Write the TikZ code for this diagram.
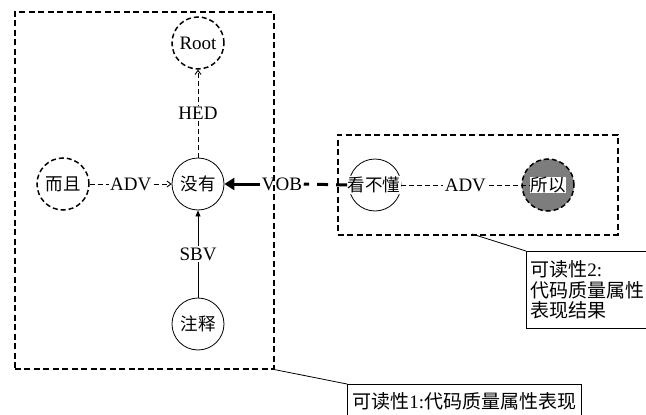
\documentclass[tikz,border=0pt]{standalone}
\usepackage{fontspec}
\setmainfont{Liberation Serif}
\newfontfamily\cjk{Noto Sans CJK SC}
\usetikzlibrary{arrows.meta}
\definecolor{fillgray}{RGB}{125,125,125}
\tikzset{
  word/.style={circle, draw, line width=0.8pt, minimum size=52pt, inner sep=0pt,
    font=\cjk\fontsize{17.5}{17.5}\selectfont},
  dword/.style={word, line width=1.5pt, dash pattern=on 5pt off 3pt},
  wtext/.style={fill=white, inner sep=0.5pt, font=\cjk\fontsize{17.5}{17.5}\selectfont},
  rel/.style={fill=white, inner sep=1.5pt, font=\fontsize{19}{19}\selectfont},
  thinedge/.style={line width=0.9pt, dash pattern=on 5pt off 3pt},
  solidedge/.style={line width=0.8pt},
  vobdash/.style={line width=3pt, dash pattern=on 11pt off 8pt},
  vobline/.style={line width=3pt, -{Triangle[length=10pt,width=12pt]}},
  openarr/.style={-{Straight Barb[length=4pt,width=6pt]}},
  group/.style={draw, line width=1.6pt, dash pattern=on 6pt off 3.5pt, inner sep=0pt},
  callout/.style={draw, line width=0.8pt, anchor=north west, align=left,
    font=\fontsize{19}{20.5}\selectfont},
  leader/.style={line width=0.8pt}
}
\begin{document}
\begin{tikzpicture}[x=1pt,y=-1pt]
\useasboundingbox (0,0) rectangle (646,415);
\begin{scope}
\clip (0,0) rectangle (646,415);
% nodes
\node[dword] (root) at (198,43) {\fontspec{Liberation Serif}\fontsize{19}{19}\selectfont Root};
\node[word] (meiyou) at (198,184) {没有};
\node[dword] (erqie) at (63,184) {而且};
\node[word] (zhushi) at (198,324) {注释};
\node[word] (kbd) at (375,185) {};
\node[wtext] (kbdt) at (374,185) {看不懂};
\node[dword, fill=fillgray] (suoyi) at (548,185) {};
\node[wtext] (suoyit) at (548,185) {所以};
% edges
\draw[thinedge, openarr] (erqie) -- (meiyou) node[midway, rel] {ADV};
\draw[thinedge, openarr] (meiyou) -- (root) node[midway, rel] {HED};
\draw[solidedge, -{Triangle[length=6pt,width=5pt]}] (zhushi) -- (meiyou) node[midway, rel] {SBV};
\node[rel] (vob) at (282,184) {VOB};
\draw[vobdash] (kbdt.west) -- (vob.east);
\draw[vobline] (vob.west) -- (meiyou);
\draw[thinedge] (kbdt.east) -- (suoyit.west) node[midway, rel] {ADV};
% groups
\node[group, anchor=north west, minimum width=259pt, minimum height=357pt] (box1) at (14,11) {};
\node[group, anchor=north west, minimum width=280pt, minimum height=100pt] (box2) at (337,134) {};
% callouts
\node[callout, inner xsep=5pt, inner ysep=8pt, text depth=14pt] (lab1) at (347,384)
  {{\cjk 可读性}1:{\cjk 代码质量属性表现}};
\node[callout, text width=150pt, inner xsep=4pt, minimum height=77pt] (lab2) at (526,251)
  {{\cjk 可读性}2:\\{\cjk 代码质量属性}\\{\cjk 表现结果}};
\coordinate (c2) at (472,234);
\draw[leader] (box1.south east) -- (lab1.north west);
\draw[leader] (c2) -- (lab2.north west);
\end{scope}
\end{tikzpicture}
\end{document}
